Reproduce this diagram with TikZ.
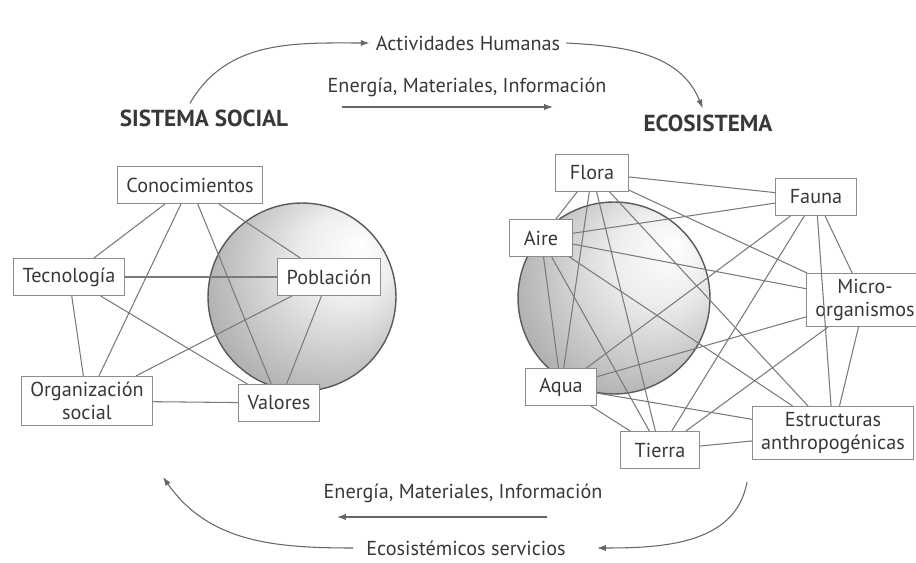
\documentclass[tikz,border=0pt]{standalone}
\usepackage{fontspec}
\setmainfont{PT Sans}
\usetikzlibrary{arrows.meta}
\pgfdeclareradialshading{globe}{\pgfpoint{16bp}{14bp}}{color(0bp)=(white); color(12bp)=(black!7); color(42bp)=(black!42); color(50bp)=(black!44)}
\begin{document}
\begin{tikzpicture}[x=0.02cm,y=-0.02cm,
	every node/.style={text=black!78},
	box/.style={draw=black!45,fill=white,line width=0.6pt,inner xsep=5pt,minimum height=21pt,font=\fontsize{11.5}{13}\selectfont,align=center},
	ebox/.style={box,inner xsep=8pt},
	sphere/.style={circle,draw=black!65,line width=0.8pt,shading=globe,minimum size=3.76cm,inner sep=0pt},
	link/.style={draw=black!52,line width=0.6pt},
	flow/.style={draw=black!60,line width=0.6pt,-{Latex[length=5pt,width=3.5pt]}},
	flowtext/.style={font=\fontsize{11.5}{13}\selectfont},
	heading/.style={font=\fontsize{13.2}{15}\selectfont\bfseries}]
	\useasboundingbox (0,0) rectangle (916,563);

	\node[sphere] (balL) at (302,297) {};
	\node[sphere,minimum size=3.84cm] (balR) at (614,298) {};

	\node[heading] (soc) at (204,118) {SISTEMA SOCIAL};
	\node[heading] (eco) at (708,123) {ECOSISTEMA};
	\node[flowtext] (act) at (468,43) {Actividades Humanas};
	\node[flowtext] (in1) at (467,87) {Energía, Materiales, Información};
	\node[flowtext] (in2) at (463,493) {Energía, Materiales, Información};
	\node[flowtext] (srv) at (466,548) {Ecosistémicos servicios};

	\node[box] (con) at (190,185) {Conocimientos};
	\node[box] (tec) at (69,277) {Tecnología};
	\node[box] (pob) at (329,277) {Población};
	\node[box] (org) at (87,401) {Organización\\social};
	\node[box] (val) at (279,403) {Valores};

	\node[ebox] (flo) at (592,173) {Flora};
	\node[ebox] (fau) at (816,197) {Fauna};
	\node[ebox] (air) at (541,238) {Aire};
	\node[box] (mic) at (865,300) {Micro-\\organismos};
	\node[ebox] (aqu) at (561,387) {Aqua};
	\node[ebox] (tie) at (660,450) {Tierra};
	\node[box] (est) at (833,433) {Estructuras\\anthropogénicas};

	\foreach \a/\b in {con/tec,con/org,con/val,con/pob,tec/pob,tec/org,tec/val,pob/org,pob/val,org/val}
		\draw[link] (\a) -- (\b);
	\foreach \a/\b in {flo/fau,flo/air,flo/mic,flo/aqu,flo/tie,flo/est,fau/air,fau/mic,fau/aqu,fau/tie,fau/est,air/mic,air/aqu,air/tie,air/est,mic/aqu,mic/tie,mic/est,aqu/tie,aqu/est,tie/est}
		\draw[link] (\a) -- (\b);

	\coordinate (p1) at (342,107);
	\coordinate (p2) at (553,107);
	\coordinate (q1) at (547,517);
	\coordinate (q2) at (337,517);
	\coordinate (r1) at (163,477);
	\coordinate (r2) at (747,482);
	\coordinate (r3) at (597,548);

	\draw[flow] ([xshift=-8pt]soc.north) to[out=60,in=180] (act.west);
	\draw[flow] (act.east) to[out=-3,in=112] ([xshift=-3pt]eco.north);
	\draw[flow] (p1) -- (p2);
	\draw[flow] (q1) -- (q2);
	\draw[flow] ([xshift=-4pt]srv.west) to[out=180,in=-55] (r1);
	\draw[flow] (r2) to[out=-100,in=0] (r3);
\end{tikzpicture}
\end{document}
